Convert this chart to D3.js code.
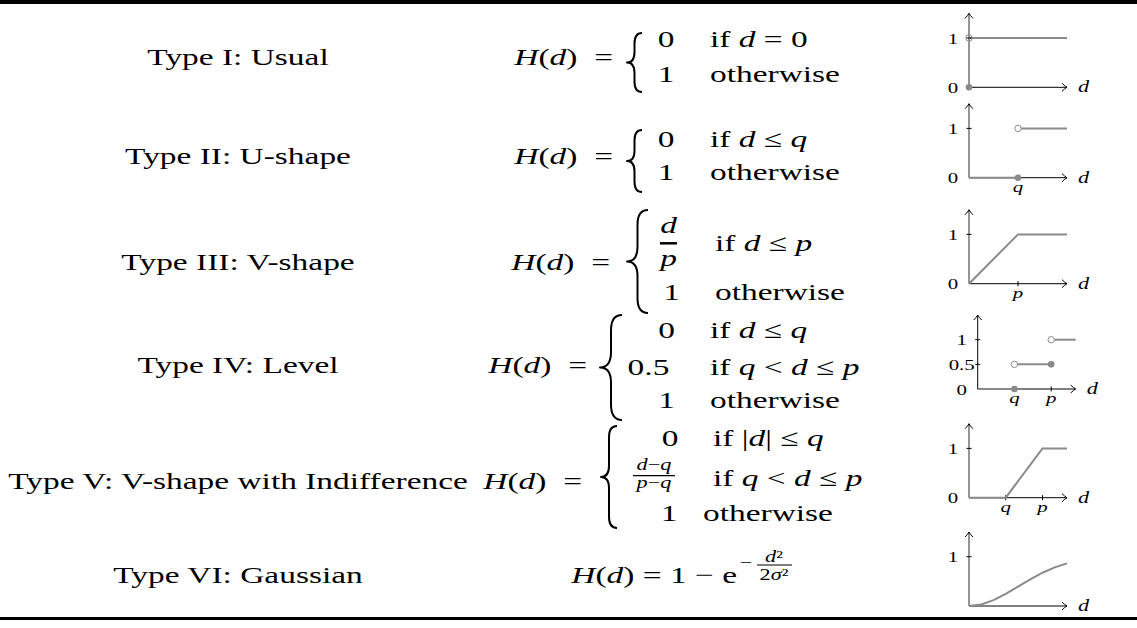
<!DOCTYPE html>
<html><head><meta charset="utf-8">
<script src="https://cdn.jsdelivr.net/npm/d3@7"></script>
<style>
body{margin:0;background:#fff}
svg{display:block}
text{font-family:"Liberation Serif","Times New Roman",serif;fill:#000}
</style>
</head><body>
<svg id="c" width="1137" height="628"></svg>
<script>
// ---------- data ----------
const typeLabels = ["Type I: Usual","Type II: U-shape","Type III: V-shape","Type IV: Level","Type V: V-shape with Indifference","Type VI: Gaussian"];
const dDomain = [0, 2];          // d range of each small chart
const hAxisMax = 1.5;           // y-axis arrow height (in H units)
const gaussD = [0, 0.25, 0.5, 0.75, 1, 1.25, 1.5, 1.75, 2];
const gaussH = [0, 0.031, 0.118, 0.245, 0.394, 0.542, 0.675, 0.784, 0.865];
const chartLines = [
  [[[0,1],[2,1]]],
  [[[0,0],[1,0]], [[1,1],[2,1]]],
  [[[0,0],[1,1],[2,1]]],
  [[[0,0],[0.75,0]], [[0.75,0.5],[1.5,0.5]], [[1.5,1],[2,1]]],
  [[[0,0],[0.75,0],[1.5,1],[2,1]]],
  [gaussD.map((d,i)=>[d,gaussH[i]])]
];
const filledDots = [[[0,0]], [[1,0]], [], [[0.75,0],[1.5,0.5]], [], []];
const openDots   = [[[0,1]], [[1,1]], [], [[0.75,0.5],[1.5,1]], [], []];
const yTickVals  = [[0,1],[0,1],[0,1],[0,0.5,1],[0,1],[1]];
const yTickLabels= [["0","1"],["0","1"],["0","1"],["0","0.5","1"],["0","1"],["1"]];
const xTickVals  = [[],[1],[1],[0.75,1.5],[0.75,1.5],[]];
const xTickLabels= [[],["q"],["p"],["q","p"],["q","p"],[]];

// ---------- layout ----------
const W = 1137, H = 628;
const svg = d3.select("#c");
const rowBase = [65, 164, 270, 373, 489, 583];
const chartOX = [969, 969, 969, 977.7, 969, 969];
const chartOY = [87.3, 177.7, 283.7, 389, 497.7, 606];
const chartW = 98, unitH = 49.3;
const gray = "#8a8a8a";
let sx = 1;

function T(x, y, markup, opt) {
  opt = opt || {};
  const t = svg.append("text")
    .attr("transform", `translate(${x},${y}) scale(${sx},1)`)
    .attr("text-anchor", opt.anchor || "start")
    .style("font-size", (opt.size || 24) + "px");
  markup.split("*").forEach((s, i) => {
    if (!s) return;
    t.append("tspan").style("font-style", i % 2 ? "italic" : "normal").text(s);
  });
  return t;
}

// horizontal stretch factor (reference text is wide)
{
  const probe = svg.append("text").style("font-size","24px").text(typeLabels[4]);
  sx = 460 / probe.node().getComputedTextLength();
  probe.remove();
}

// rules
svg.append("rect").attr("x",0).attr("y",0).attr("width",W).attr("height",4).attr("fill","#000");
svg.append("rect").attr("x",0).attr("y",617).attr("width",W).attr("height",3).attr("fill","#000");

// left labels
typeLabels.forEach((s, i) => T(238, rowBase[i], s, {anchor:"middle"}));

// braces
function brace(x0, x1, y0, y1) {
  const xm = (x0 + x1) / 2, ym = (y0 + y1) / 2, r = Math.min((x1 - x0) * 0.7, (y1 - y0) / 4);
  const p = `M${x1},${y0} Q${xm},${y0} ${xm},${y0 + r} L${xm},${ym - r} Q${xm},${ym} ${x0},${ym}` +
            ` Q${xm},${ym} ${xm},${ym + r} L${xm},${y1 - r} Q${xm},${y1} ${x1},${y1}`;
  svg.append("path").attr("d", p).attr("fill","none").attr("stroke","#000").attr("stroke-width",2).attr("stroke-linejoin","round");
}
function bar(x0, x1, y, w) {
  svg.append("line").attr("x1",x0).attr("x2",x1).attr("y1",y).attr("y2",y).attr("stroke","#000").attr("stroke-width",w);
}

// Row I
T(613, 65, "*H*(*d*)\u2002=", {anchor:"end"});
brace(627, 642, 33, 92);
T(666, 46.7, "0", {anchor:"middle"}); T(666, 81.7, "1", {anchor:"middle"});
T(710, 46.7, "if *d* = 0"); T(710, 81.7, "otherwise");
// Row II
T(613, 164, "*H*(*d*)\u2002=", {anchor:"end"});
brace(627, 642, 130, 192);
T(666, 146.7, "0", {anchor:"middle"}); T(666, 180, "1", {anchor:"middle"});
T(710, 146.7, "if *d* \u2264 *q*"); T(710, 180, "otherwise");
// Row III
T(610, 270, "*H*(*d*)\u2002=", {anchor:"end"});
brace(627, 648, 210, 313);
T(668.5, 233, "*d*", {anchor:"middle"}); bar(660, 677, 243.3, 2.5); T(668.5, 266, "*p*", {anchor:"middle"});
T(671.7, 300, "1", {anchor:"middle"});
T(715, 251, "if *d* \u2264 *p*"); T(715, 300, "otherwise");
// Row IV
T(587, 373, "*H*(*d*)\u2002=", {anchor:"end"});
brace(600, 622, 315, 420);
T(666.7, 338, "0", {anchor:"middle"}); T(648.5, 375, "0.5", {anchor:"middle"}); T(666.7, 408, "1", {anchor:"middle"});
T(710, 338, "if *d* \u2264 *q*"); T(710, 375, "if *q* < *d* \u2264 *p*"); T(710, 408, "otherwise");
// Row V
T(582, 489, "*H*(*d*)\u2002=", {anchor:"end"});
brace(601, 617, 426, 528);
T(670, 446, "0", {anchor:"middle"});
T(654, 470, "*d*\u2212*q*", {anchor:"middle", size:16}); bar(633, 675, 475.7, 1.3); T(654, 488, "*p*\u2212*q*", {anchor:"middle", size:16});
T(669, 521, "1", {anchor:"middle"});
T(713, 446, "if |*d*| \u2264 *q*"); T(713, 486, "if *q* < *d* \u2264 *p*"); T(703, 521, "otherwise");
// Row VI
T(737, 583, "*H*(*d*) = 1 \u2212 e", {anchor:"end"});
T(746, 568, "\u2212", {anchor:"middle", size:16});
T(774, 562, "*d*\u00b2", {anchor:"middle", size:16}); bar(757, 792, 565, 1.1); T(774, 580, "2*\u03c3*\u00b2", {anchor:"middle", size:16});

// ---------- small charts ----------
function arrowHead(g, tx, ty, dir) {
  const p = dir === "right"
    ? `M${tx-5},${ty-4} Q${tx-2},${ty-1} ${tx},${ty} Q${tx-2},${ty+1} ${tx-5},${ty+4}`
    : `M${tx-4},${ty+5} Q${tx-1},${ty+2} ${tx},${ty} Q${tx+1},${ty+2} ${tx+4},${ty+5}`;
  g.append("path").attr("d", p).attr("fill","none").attr("stroke","#000").attr("stroke-width",1);
}

chartLines.forEach((lines, i) => {
  const ox = chartOX[i], oy = chartOY[i];
  const x = d3.scaleLinear().domain(dDomain).range([ox, ox + chartW]);
  const y = d3.scaleLinear().domain([0, 1]).range([oy, oy - unitH]);
  const g = svg.append("g");
  // x-axis
  g.append("line").attr("x1", x(0)).attr("x2", x(dDomain[1])).attr("y1", y(0)).attr("y2", y(0)).attr("stroke","#000").attr("stroke-width",1);
  arrowHead(g, x(dDomain[1]), y(0), "right");
  xTickVals[i].forEach((v, k) => {
    g.append("line").attr("x1", x(v)).attr("x2", x(v)).attr("y1", y(0)-2.5).attr("y2", y(0)+2.5).attr("stroke","#000").attr("stroke-width",1);
    T(x(v), y(0) + 14, "*" + xTickLabels[i][k] + "*", {anchor:"middle", size:15});
  });
  // curves
  const line = d3.line().x(d => x(d[0])).y(d => y(d[1]));
  lines.forEach(seg => g.append("path").attr("d", line(seg)).attr("fill","none").attr("stroke",gray).attr("stroke-width",2));
  filledDots[i].forEach(d => g.append("circle").attr("cx", x(d[0])).attr("cy", y(d[1])).attr("r",3.3).attr("fill",gray));
  openDots[i].forEach(d => g.append("circle").attr("cx", x(d[0])).attr("cy", y(d[1])).attr("r",3.2).attr("fill", i === 0 ? "none" : "#fff").attr("stroke",gray).attr("stroke-width",1));
  // y-axis
  const yc = i === 3 ? "#000" : gray, yw = i === 3 ? 1 : 1.8;
  g.append("line").attr("x1", x(0)).attr("x2", x(0)).attr("y1", y(0)).attr("y2", y(hAxisMax)).attr("stroke", yc).attr("stroke-width", yw);
  arrowHead(g, x(0), y(hAxisMax), "up");
  yTickVals[i].forEach((v, k) => {
    if (v !== 0) g.append("line").attr("x1", x(0)-2.5).attr("x2", x(0)+2.5).attr("y1", y(v)).attr("y2", y(v)).attr("stroke","#000").attr("stroke-width",1);
    T(x(0) - 16, y(v) + 5.5, yTickLabels[i][k], {anchor:"middle", size:15});
  });
  T(x(dDomain[1]) + 16.5, y(0) + 5, "*d*", {anchor:"middle", size:16});
});
</script>
</body></html>
